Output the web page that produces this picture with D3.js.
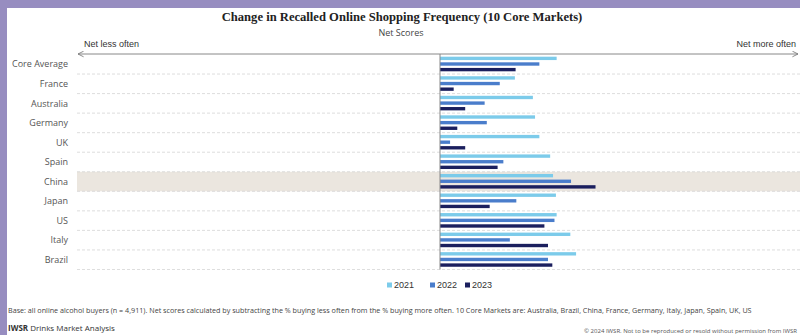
<!DOCTYPE html>
<html>
<head>
<meta charset="utf-8">
<script src="https://cdn.jsdelivr.net/npm/d3@7"></script>
<style>
  body { margin: 0; background: #fff; }
  svg { display: block; }
</style>
</head>
<body>
<div id="chart"></div>
<script>
// Markets top to bottom, net scores per year
const markets = ["Core Average", "France", "Australia", "Germany", "UK", "Spain", "China", "Japan", "US", "Italy", "Brazil"];
const years = ["2021", "2022", "2023"];
const net2021 = [16.2, 10.4, 12.9, 13.2, 13.8, 15.3, 15.7, 16.1, 16.2, 18.1, 18.9];
const net2022 = [13.8, 8.3, 6.2, 6.5, 1.4, 8.8, 18.2, 10.6, 15.9, 9.7, 15.0];
const net2023 = [10.5, 1.9, 3.5, 2.4, 3.5, 8.0, 21.6, 6.9, 14.5, 15.0, 15.6];
const highlight = "China";

const colors = { "2021": "#7ccbea", "2022": "#4a7dcb", "2023": "#1b1f5e" };

const data = [];
markets.forEach((m, i) => {
    data.push({ market: m, year: "2021", value: net2021[i] });
    data.push({ market: m, year: "2022", value: net2022[i] });
    data.push({ market: m, year: "2023", value: net2023[i] });
});

const W = 800, H = 335;
const svg = d3.select("#chart").append("svg")
    .attr("width", W)
    .attr("height", H);

// purple frame top and left
svg.append("rect").attr("x", 0).attr("y", 0).attr("width", W).attr("height", 8).attr("fill", "#978dc0");
svg.append("rect").attr("x", 0).attr("y", 0).attr("width", 7).attr("height", H).attr("fill", "#978dc0");

// scales
const x = d3.scaleLinear().domain([-50, 50]).range([80, 800]);
const y = d3.scaleBand().domain(markets).range([54.5, 269.5]);
const yy = d3.scaleBand().domain(years).range([2.2, 16.8]).paddingInner(0.4);

// title
svg.append("text")
    .attr("x", 402).attr("y", 21)
    .attr("text-anchor", "middle")
    .style("font-family", "Liberation Serif, serif")
    .style("font-weight", "bold")
    .style("font-size", "12.6px")
    .style("fill", "#222")
    .text("Change in Recalled Online Shopping Frequency (10 Core Markets)");

svg.append("text")
    .attr("x", 401).attr("y", 36)
    .attr("text-anchor", "middle")
    .style("font-family", "Open Sans, sans-serif")
    .style("font-size", "9px")
    .style("fill", "#444")
    .text("Net Scores");

// highlighted row
svg.append("rect")
    .attr("x", 77).attr("y", y(highlight))
    .attr("width", W - 77).attr("height", y.step())
    .attr("fill", "#ebe6df");

// dashed row separators
svg.append("g")
    .selectAll("line")
    .data(markets)
    .join("line")
    .attr("x1", 77).attr("x2", W)
    .attr("y1", d => y(d) + y.step())
    .attr("y2", d => y(d) + y.step())
    .attr("stroke", "#d6d6d6")
    .attr("stroke-width", 0.8)
    .attr("stroke-dasharray", "3,2");

// double headed arrow axis
const defs = svg.append("defs");
defs.append("marker").attr("id", "arrR")
    .attr("viewBox", "0 0 10 10").attr("refX", 9).attr("refY", 5)
    .attr("markerWidth", 7).attr("markerHeight", 7).attr("orient", "auto")
    .append("path").attr("d", "M1,1 L9,5 L1,9").attr("fill", "none").attr("stroke", "#777").attr("stroke-width", 1.2);
defs.append("marker").attr("id", "arrL")
    .attr("viewBox", "0 0 10 10").attr("refX", 1).attr("refY", 5)
    .attr("markerWidth", 7).attr("markerHeight", 7).attr("orient", "auto")
    .append("path").attr("d", "M9,1 L1,5 L9,9").attr("fill", "none").attr("stroke", "#777").attr("stroke-width", 1.2);

svg.append("line")
    .attr("x1", 78).attr("x2", 798)
    .attr("y1", 54).attr("y2", 54)
    .attr("stroke", "#888").attr("stroke-width", 1)
    .attr("marker-start", "url(#arrL)")
    .attr("marker-end", "url(#arrR)");

svg.append("text")
    .attr("x", 84).attr("y", 47)
    .style("font-family", "Liberation Sans, Arial, sans-serif")
    .style("font-size", "9px").style("fill", "#333")
    .text("Net less often");
svg.append("text")
    .attr("x", 796).attr("y", 47)
    .attr("text-anchor", "end")
    .style("font-family", "Liberation Sans, Arial, sans-serif")
    .style("font-size", "9px").style("fill", "#333")
    .text("Net more often");

// category labels
svg.append("g")
    .selectAll("text")
    .data(markets)
    .join("text")
    .attr("x", 68)
    .attr("y", d => y(d) + y.step() / 2)
    .attr("dy", "0.35em")
    .attr("text-anchor", "end")
    .style("font-family", "Open Sans, sans-serif")
    .style("font-size", "9px")
    .style("fill", "#555")
    .text(d => d);

// bars
svg.append("g")
    .selectAll("rect")
    .data(data)
    .join("rect")
    .attr("x", d => x(Math.min(0, d.value)))
    .attr("y", d => y(d.market) + yy(d.year))
    .attr("width", d => Math.abs(x(d.value) - x(0)))
    .attr("height", yy.bandwidth())
    .attr("fill", d => colors[d.year]);

// zero line
svg.append("line")
    .attr("x1", x(0)).attr("x2", x(0))
    .attr("y1", 54).attr("y2", y.range()[1])
    .attr("stroke", "#888").attr("stroke-width", 1);

// legend
const legend = svg.append("g").attr("transform", "translate(387,285)");
const legX = [0, 43, 78];
years.forEach((yr, i) => {
    const g = legend.append("g").attr("transform", `translate(${legX[i]},0)`);
    g.append("rect").attr("x", 0).attr("y", -2.5).attr("width", 5).attr("height", 5).attr("fill", colors[yr]);
    g.append("text").attr("x", 7).attr("y", 0).attr("dy", "0.35em")
        .style("font-family", "Liberation Sans, Arial, sans-serif")
        .style("font-size", "9px").style("fill", "#333")
        .text(yr);
});

// footnotes
svg.append("text")
    .attr("x", 8).attr("y", 313)
    .style("font-family", "Open Sans, sans-serif")
    .style("font-size", "7.2px").style("fill", "#444")
    .text("Base: all online alcohol buyers (n = 4,911). Net scores calculated by subtracting the % buying less often from the % buying more often. 10 Core Markets are: Australia, Brazil, China, France, Germany, Italy, Japan, Spain, UK, US");

const brand = svg.append("text")
    .attr("x", 8).attr("y", 331)
    .style("font-family", "Open Sans, sans-serif")
    .style("font-size", "8px").style("fill", "#333");
brand.append("tspan").style("font-weight", "bold").text("IWSR");
brand.append("tspan").text(" Drinks Market Analysis");

svg.append("text")
    .attr("x", 797).attr("y", 333)
    .attr("text-anchor", "end")
    .style("font-family", "Open Sans, sans-serif")
    .style("font-size", "6px").style("fill", "#555")
    .text("© 2024 IWSR. Not to be reproduced or resold without permission from IWSR");
</script>
</body>
</html>
